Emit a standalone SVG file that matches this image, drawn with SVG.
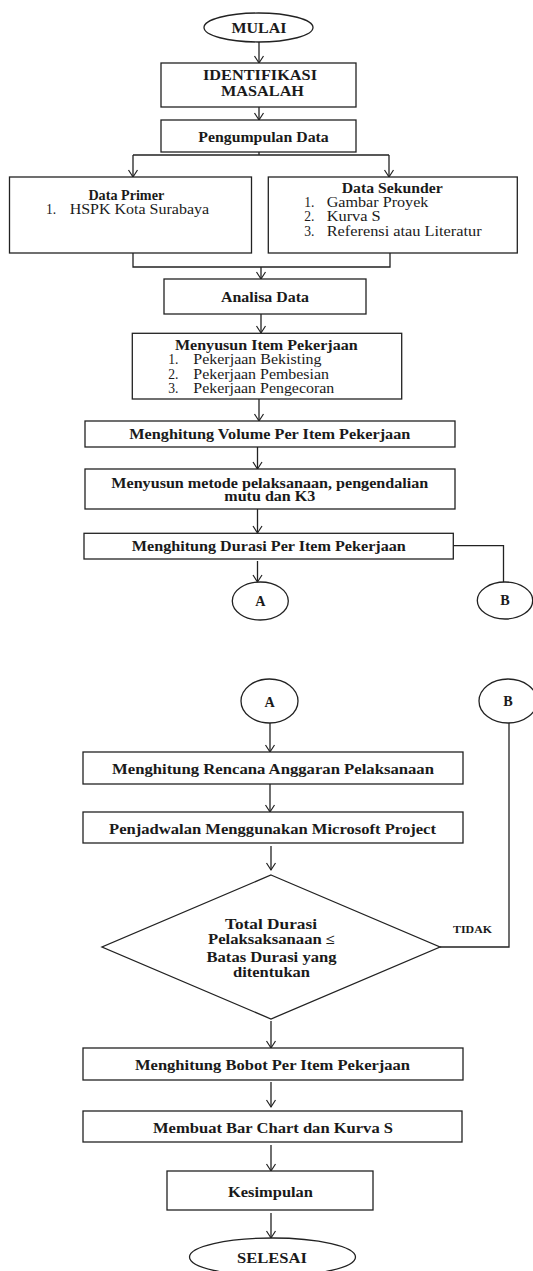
<svg xmlns="http://www.w3.org/2000/svg" width="533" height="1271" viewBox="0 0 533 1271">
<defs>
<marker id="arr" viewBox="-9 -6 11 12" refX="0" refY="0" markerWidth="11" markerHeight="12" orient="auto" markerUnits="userSpaceOnUse">
<path d="M-7,-4.5 L0,0 L-7,4.5" fill="none" stroke="#222" stroke-width="1.2"/>
</marker>
<style>
.n{fill:#fff;stroke:#222;stroke-width:1.3}
.c{fill:none;stroke:#222;stroke-width:1.3}
.a{fill:none;stroke:#222;stroke-width:1.3;marker-end:url(#arr)}
text{font-family:"Liberation Serif","Times New Roman",serif;fill:#1a1a1a;font-size:14.2px}
.b{font-weight:bold;text-anchor:middle}
.r{font-weight:normal;font-size:13.6px}
.s{font-size:10.5px;font-weight:bold}
</style>
</defs>
<rect width="533" height="1271" fill="#fff"/>
<g id="connectors">
<path class="a" d="M259,42 V63"/>
<path class="a" d="M259,107 V120"/>
<path class="c" d="M259,152 V155 M133,155 H389"/>
<path class="a" d="M133,155 V177"/>
<path class="a" d="M389,155 V177"/>
<path class="c" d="M133,253 V267 H390 V253"/>
<path class="a" d="M261,267 V279"/>
<path class="a" d="M261,314 V333"/>
<path class="a" d="M259,399 V421"/>
<path class="a" d="M257.5,447 V469"/>
<path class="a" d="M257.5,509 V533"/>
<path class="c" d="M453,545.7 H503.5 V582"/>
<path class="a" d="M257.5,561 V582"/>
<path class="a" d="M270,723 V752"/>
<path class="a" d="M270,784 V812"/>
<path class="a" d="M271,846 V870"/>
<path class="c" d="M440,947 H509 V723"/>
<path class="a" d="M271,1021 V1048"/>
<path class="a" d="M271,1082 V1107"/>
<path class="a" d="M271,1145 V1171"/>
<path class="a" d="M271,1213 V1238"/>
</g>
<g id="mulai"><ellipse class="n" cx="258.5" cy="27.5" rx="54.5" ry="14.5"/><text class="b" x="259" y="32.8" textLength="55" lengthAdjust="spacingAndGlyphs">MULAI</text></g>
<g id="identifikasi"><rect class="n" x="161" y="63" width="195" height="44"/><text class="b" x="260" y="80.3" textLength="114" lengthAdjust="spacingAndGlyphs">IDENTIFIKASI</text><text class="b" x="262.5" y="96.3" textLength="83" lengthAdjust="spacingAndGlyphs">MASALAH</text></g>
<g id="pengumpulan"><rect class="n" x="161" y="120" width="195" height="32"/><text class="b" x="263.5" y="142" textLength="130.5" lengthAdjust="spacingAndGlyphs">Pengumpulan Data</text></g>
<g id="primer"><rect class="n" x="9.5" y="177" width="242" height="76"/><text class="b" x="126.3" y="199.7" textLength="75.8" lengthAdjust="spacingAndGlyphs">Data Primer</text><text class="r" x="46" y="213.7">1.</text><text class="r" x="69.7" y="213.7" textLength="139.4" lengthAdjust="spacingAndGlyphs">HSPK Kota Surabaya</text></g>
<g id="sekunder"><rect class="n" x="268.3" y="177" width="249" height="76"/><text class="b" x="392.2" y="193" textLength="101" lengthAdjust="spacingAndGlyphs">Data Sekunder</text><text class="r" x="304.3" y="207">1.</text><text class="r" x="326.7" y="207" textLength="101.7" lengthAdjust="spacingAndGlyphs">Gambar Proyek</text><text class="r" x="304.3" y="221.2">2.</text><text class="r" x="326.7" y="221.2" textLength="54" lengthAdjust="spacingAndGlyphs">Kurva S</text><text class="r" x="304.3" y="235.5">3.</text><text class="r" x="326.7" y="235.5" textLength="155" lengthAdjust="spacingAndGlyphs">Referensi atau Literatur</text></g>
<g id="analisa"><rect class="n" x="164" y="279" width="202" height="35"/><text class="b" x="265" y="302" textLength="88" lengthAdjust="spacingAndGlyphs">Analisa Data</text></g>
<g id="item"><rect class="n" x="132.3" y="333.3" width="269.4" height="65.7"/><text class="b" x="266.3" y="350.3" textLength="182.7" lengthAdjust="spacingAndGlyphs">Menyusun Item Pekerjaan</text><text class="r" x="168.3" y="364.3">1.</text><text class="r" x="193.3" y="364.3" textLength="128.3" lengthAdjust="spacingAndGlyphs">Pekerjaan Bekisting</text><text class="r" x="168.3" y="378.5">2.</text><text class="r" x="193.3" y="378.5" textLength="135.7" lengthAdjust="spacingAndGlyphs">Pekerjaan Pembesian</text><text class="r" x="168.3" y="393.2">3.</text><text class="r" x="193.3" y="393.2" textLength="141" lengthAdjust="spacingAndGlyphs">Pekerjaan Pengecoran</text></g>
<g id="volume"><rect class="n" x="85" y="421" width="370" height="26"/><text class="b" x="269.8" y="439.3" textLength="281" lengthAdjust="spacingAndGlyphs">Menghitung Volume Per Item Pekerjaan</text></g>
<g id="metode"><rect class="n" x="85" y="469" width="370" height="40"/><text class="b" x="269.8" y="487.5" textLength="317" lengthAdjust="spacingAndGlyphs">Menyusun metode pelaksanaan, pengendalian</text><text class="b" x="269.8" y="501" textLength="91" lengthAdjust="spacingAndGlyphs">mutu dan K3</text></g>
<g id="durasi"><rect class="n" x="84" y="533.3" width="369.3" height="25.7"/><text class="b" x="268.8" y="551.3" textLength="274" lengthAdjust="spacingAndGlyphs">Menghitung Durasi Per Item Pekerjaan</text></g>
<g id="a1"><ellipse class="n" cx="260.3" cy="601" rx="28" ry="19"/><text class="b" x="260.3" y="606.2">A</text></g>
<g id="b1"><ellipse class="n" cx="505" cy="600.5" rx="27.7" ry="18.5"/><text class="b" x="505" y="605.2">B</text></g>
<g id="a2"><ellipse class="n" cx="269.5" cy="701" rx="28.5" ry="22"/><text class="b" x="269.5" y="706.9">A</text></g>
<g id="b2"><ellipse class="n" cx="508" cy="701" rx="29" ry="22"/><text class="b" x="508" y="706.2">B</text></g>
<g id="rap"><rect class="n" x="83" y="752" width="380" height="32"/><text class="b" x="273" y="774.3" textLength="322" lengthAdjust="spacingAndGlyphs">Menghitung Rencana Anggaran Pelaksanaan</text></g>
<g id="jadwal"><rect class="n" x="83" y="812" width="380" height="31"/><text class="b" x="272.5" y="833.5" textLength="327" lengthAdjust="spacingAndGlyphs">Penjadwalan Menggunakan Microsoft Project</text></g>
<g id="keputusan"><polygon class="n" points="271,875 440,947 271,1019 102,947"/><text class="b" x="271" y="929.2" textLength="92" lengthAdjust="spacingAndGlyphs">Total Durasi</text><text class="b" x="271.5" y="944.2" textLength="127" lengthAdjust="spacingAndGlyphs">Pelaksaksanaan ≤</text><text class="b" x="271.5" y="961.9" textLength="130" lengthAdjust="spacingAndGlyphs">Batas Durasi yang</text><text class="b" x="271.5" y="976.9" textLength="77" lengthAdjust="spacingAndGlyphs">ditentukan</text></g>
<text class="s" x="453" y="932.9" textLength="39" lengthAdjust="spacingAndGlyphs">TIDAK</text>
<g id="bobot"><rect class="n" x="83" y="1048" width="380" height="32"/><text class="b" x="272.5" y="1069.5" textLength="275" lengthAdjust="spacingAndGlyphs">Menghitung Bobot Per Item Pekerjaan</text></g>
<g id="barchart"><rect class="n" x="83" y="1111" width="379" height="31"/><text class="b" x="273" y="1132.5" textLength="240" lengthAdjust="spacingAndGlyphs">Membuat Bar Chart dan Kurva S</text></g>
<g id="kesimpulan"><rect class="n" x="167" y="1171" width="206" height="39"/><text class="b" x="270.5" y="1196.9" textLength="85" lengthAdjust="spacingAndGlyphs">Kesimpulan</text></g>
<g id="selesai"><ellipse class="n" cx="272.5" cy="1257" rx="83" ry="19"/><text class="b" x="272" y="1262.5" textLength="70" lengthAdjust="spacingAndGlyphs">SELESAI</text></g>
</svg>
